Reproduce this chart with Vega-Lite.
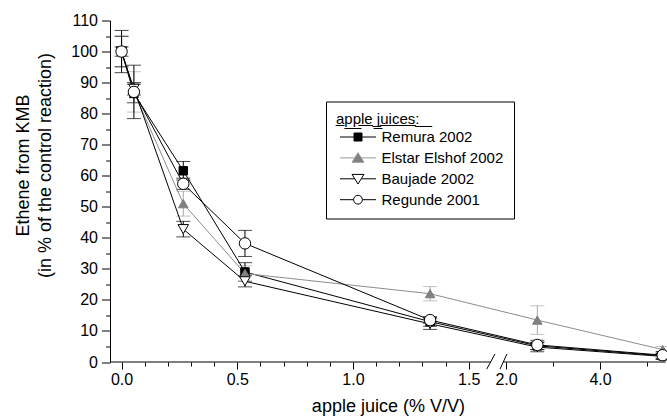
{
  "$schema": "https://vega.github.io/schema/vega-lite/v6.json",
  "autosize": "none",
  "padding": {"left": 110, "top": 20.5, "right": 1, "bottom": 56},
  "width": 556,
  "height": 341.5,
  "config": {
    "view": {"stroke": null},
    "font": "Liberation Sans",
    "axis": {"grid": false, "domainColor": "black", "tickColor": "black", "labelColor": "black", "titleColor": "black", "labelFont": "Liberation Sans", "titleFont": "Liberation Sans", "titleFontWeight": "normal", "labelFontSize": 16, "titleFontSize": 18, "tickWidth": 1, "domainWidth": 1},
    "legend": {"orient": "none", "legendX": 216, "legendY": 81, "strokeColor": "black", "padding": 10, "titleFont": "Liberation Sans", "labelFont": "Liberation Sans", "titleFontSize": 15, "titleFontWeight": "normal", "titleColor": "black", "labelFontSize": 15, "labelColor": "black", "titlePadding": 3, "rowPadding": 4.9, "symbolOffset": 14.5, "labelOffset": 16, "symbolSize": 64, "symbolStrokeWidth": 1}
  },
  "datasets": {
    "juice": [
      {"juice": "Remura 2002", "c": 0, "e": 100, "sd": 1.5},
      {"juice": "Remura 2002", "c": 0.0533, "e": 86.5, "sd": 3},
      {"juice": "Remura 2002", "c": 0.2667, "e": 61.6, "sd": 3},
      {"juice": "Remura 2002", "c": 0.5333, "e": 29, "sd": 3},
      {"juice": "Remura 2002", "c": 1.3333, "e": 13, "sd": 1.5},
      {"juice": "Remura 2002", "c": 2.6667, "e": 5.2, "sd": 1.2},
      {"juice": "Remura 2002", "c": 5.3333, "e": 2, "sd": 0.8},
      {"juice": "Elstar Elshof 2002", "c": 0, "e": 100, "sd": 5},
      {"juice": "Elstar Elshof 2002", "c": 0.0533, "e": 87, "sd": 6.5},
      {"juice": "Elstar Elshof 2002", "c": 0.2667, "e": 51, "sd": 4},
      {"juice": "Elstar Elshof 2002", "c": 0.5333, "e": 28.5, "sd": 2.5},
      {"juice": "Elstar Elshof 2002", "c": 1.3333, "e": 22, "sd": 2.3},
      {"juice": "Elstar Elshof 2002", "c": 2.6667, "e": 13.5, "sd": 4.6},
      {"juice": "Elstar Elshof 2002", "c": 5.3333, "e": 4, "sd": 1},
      {"juice": "Baujade 2002", "c": 0, "e": 100, "sd": 6.8},
      {"juice": "Baujade 2002", "c": 0.0533, "e": 88, "sd": 2},
      {"juice": "Baujade 2002", "c": 0.2667, "e": 42.8, "sd": 2.5},
      {"juice": "Baujade 2002", "c": 0.5333, "e": 26, "sd": 1.8},
      {"juice": "Baujade 2002", "c": 1.3333, "e": 12.3, "sd": 1.8},
      {"juice": "Baujade 2002", "c": 2.6667, "e": 4.8, "sd": 1.5},
      {"juice": "Baujade 2002", "c": 5.3333, "e": 1.8, "sd": 1},
      {"juice": "Regunde 2001", "c": 0, "e": 100, "sd": 4.9},
      {"juice": "Regunde 2001", "c": 0.0533, "e": 87, "sd": 8.6},
      {"juice": "Regunde 2001", "c": 0.2667, "e": 57.4, "sd": 1.8},
      {"juice": "Regunde 2001", "c": 0.5333, "e": 38.2, "sd": 4.2},
      {"juice": "Regunde 2001", "c": 1.3333, "e": 13.5, "sd": 1},
      {"juice": "Regunde 2001", "c": 2.6667, "e": 5.5, "sd": 1.5},
      {"juice": "Regunde 2001", "c": 5.3333, "e": 2.2, "sd": 1.2}
    ],
    "axisline": [
      {"a": -0.05, "b": 1.595},
      {"a": 1.924, "b": 5.4}
    ],
    "slashes": [
      {"x1": 1.578, "x2": 1.69, "y1": -2.3, "y2": 2.6},
      {"x1": 1.831, "x2": 2.021, "y1": -2.3, "y2": 2.6}
    ]
  },
  "resolve": {"scale": {"color": "independent", "shape": "independent", "fill": "independent", "stroke": "independent", "size": "independent"}, "axis": {"x": "independent", "y": "independent"}},
  "layer": [
    {
      "data": {"name": "axisline"},
      "mark": {"type": "rule", "color": "black", "strokeWidth": 1, "clip": false},
      "encoding": {
        "x": {"field": "a", "type": "quantitative", "axis": null, "scale": {"domain": [-0.05, 1.6, 2.0, 5.4], "range": [0, 381.8, 396, 555.8], "zero": false, "nice": false}},
        "x2": {"field": "b"},
        "y": {"datum": 0, "type": "quantitative", "axis": null, "scale": {"domain": [0, 110], "nice": false, "zero": false}}
      }
    },
    {
      "data": {"name": "slashes"},
      "mark": {"type": "rule", "color": "black", "strokeWidth": 1, "clip": false},
      "encoding": {
        "x": {"field": "x1", "type": "quantitative", "axis": null},
        "x2": {"field": "x2"},
        "y": {"field": "y1", "type": "quantitative", "axis": null},
        "y2": {"field": "y2"}
      }
    },
    {
      "data": {"name": "juice"},
      "mark": {"type": "errorbar", "ticks": {"size": 14}, "thickness": 1},
      "encoding": {
        "x": {"field": "c", "type": "quantitative", "axis": null},
        "y": {"field": "e", "type": "quantitative", "axis": null},
        "yError": {"field": "sd"},
        "color": {"field": "juice", "type": "nominal", "legend": null, "scale": {"domain": ["Remura 2002", "Elstar Elshof 2002", "Baujade 2002", "Regunde 2001"], "range": ["#000000", "#a8a8a8", "#000000", "#000000"]}}
      }
    },
    {
      "data": {"name": "juice"},
      "mark": {"type": "line", "strokeWidth": 1},
      "encoding": {
        "x": {"field": "c", "type": "quantitative",
          "axis": {"values": [0, 0.1, 0.2, 0.3, 0.4, 0.5, 0.6, 0.7, 0.8, 0.9, 1, 1.1, 1.2, 1.3, 1.4, 1.5, 2, 3, 4, 5], "labelExpr": "(datum.value === 0 || datum.value === 0.5 || datum.value === 1 || datum.value === 1.5 || datum.value === 2 || datum.value === 4) ? format(datum.value, '.1f') : ''", "domain": false, "tickSize": {"condition": {"test": "datum.value === 0 || datum.value === 0.5 || datum.value === 1 || datum.value === 1.5 || datum.value === 2 || datum.value === 4", "value": 7}, "value": 4}, "labelPadding": 2, "title": "apple juice (% V/V)", "titleY": 49, "titleBaseline": "alphabetic"}},
        "y": {"field": "e", "type": "quantitative",
          "axis": {"values": [0, 5, 10, 15, 20, 25, 30, 35, 40, 45, 50, 55, 60, 65, 70, 75, 80, 85, 90, 95, 100, 105, 110], "labelExpr": "datum.value % 10 === 0 ? datum.value : ''", "domain": true, "tickSize": {"condition": {"test": "datum.value % 10 === 0", "value": 8.5}, "value": 4.3}, "labelPadding": 4, "title": ["Ethene from KMB", "(in % of the control reaction)"], "titleX": -82, "titleY": 144.5, "titleBaseline": "alphabetic", "titleAlign": "center", "titleAngle": -90, "titleLineHeight": 22}},
        "color": {"field": "juice", "type": "nominal", "legend": null, "scale": {"domain": ["Remura 2002", "Elstar Elshof 2002", "Baujade 2002", "Regunde 2001"], "range": ["#000000", "#8c8c8c", "#000000", "#000000"]}},
        "order": {"field": "c", "type": "quantitative"}
      }
    },
    {
      "data": {"name": "juice"},
      "mark": {"type": "point", "filled": true, "strokeWidth": 1, "opacity": 1},
      "encoding": {
        "x": {"field": "c", "type": "quantitative", "axis": null},
        "y": {"field": "e", "type": "quantitative", "axis": null},
        "shape": {"field": "juice", "type": "nominal", "legend": null, "scale": {"domain": ["Remura 2002", "Elstar Elshof 2002", "Baujade 2002", "Regunde 2001"], "range": ["square", "triangle-up", "triangle-down", "circle"]}},
        "fill": {"field": "juice", "type": "nominal", "legend": null, "scale": {"domain": ["Remura 2002", "Elstar Elshof 2002", "Baujade 2002", "Regunde 2001"], "range": ["#000000", "#808080", "#ffffff", "#ffffff"]}},
        "stroke": {"field": "juice", "type": "nominal", "legend": null, "scale": {"domain": ["Remura 2002", "Elstar Elshof 2002", "Baujade 2002", "Regunde 2001"], "range": ["#000000", "#808080", "#000000", "#000000"]}},
        "size": {"field": "juice", "type": "nominal", "legend": null, "scale": {"domain": ["Remura 2002", "Elstar Elshof 2002", "Baujade 2002", "Regunde 2001"], "range": [72, 130, 140, 100]}}
      }
    },
    {
      "data": {"name": "juice"},
      "transform": [{"filter": "datum.c < 0"}],
      "mark": {"type": "point", "filled": true, "strokeWidth": 1, "opacity": 1},
      "encoding": {
        "x": {"field": "c", "type": "quantitative", "axis": null},
        "y": {"field": "e", "type": "quantitative", "axis": null},
        "shape": {"field": "juice", "type": "nominal", "title": "a\u0332p\u0332p\u0332l\u0332e\u0332 \u0332j\u0332u\u0332i\u0332c\u0332e\u0332s\u0332:\u0332 \u0332 \u0332", "scale": {"domain": ["Remura 2002", "Elstar Elshof 2002", "Baujade 2002", "Regunde 2001"], "range": ["M-4.5,0H-1M1,0H4.5M-1,-1H1V1H-1Z", "M-4.5,0H-0.8M0.8,0H4.5M0,-1.3L1.5,1.1L-1.5,1.1Z", "M-4.5,0H-0.8M0.8,0H4.5M0,1.3L1.5,-1.1L-1.5,-1.1Z", "M-4.5,0H-1.1M1.1,0H4.5M-1.1,0A1.1,1.1,0,1,0,1.1,0A1.1,1.1,0,1,0,-1.1,0Z"]}},
        "fill": {"field": "juice", "type": "nominal", "title": "a\u0332p\u0332p\u0332l\u0332e\u0332 \u0332j\u0332u\u0332i\u0332c\u0332e\u0332s\u0332:\u0332 \u0332 \u0332", "scale": {"domain": ["Remura 2002", "Elstar Elshof 2002", "Baujade 2002", "Regunde 2001"], "range": ["#000000", "#808080", "#ffffff", "#ffffff"]}},
        "stroke": {"field": "juice", "type": "nominal", "title": "a\u0332p\u0332p\u0332l\u0332e\u0332 \u0332j\u0332u\u0332i\u0332c\u0332e\u0332s\u0332:\u0332 \u0332 \u0332", "scale": {"domain": ["Remura 2002", "Elstar Elshof 2002", "Baujade 2002", "Regunde 2001"], "range": ["#000000", "#999999", "#000000", "#000000"]}}
      }
    }
  ]
}
